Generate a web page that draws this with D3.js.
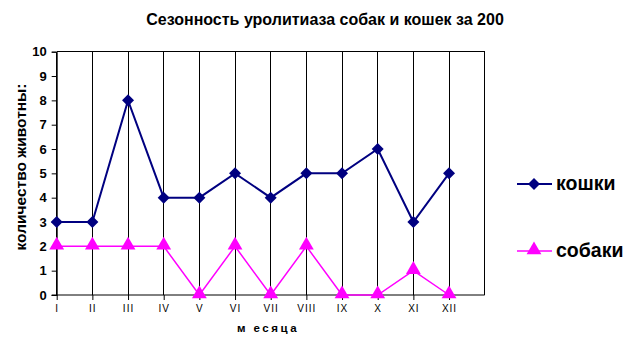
<!DOCTYPE html>
<html><head><meta charset="utf-8">
<script src="https://cdn.jsdelivr.net/npm/d3@7"></script>
<style>body{margin:0;background:#fff}svg{display:block;font-family:"Liberation Sans",Arial,sans-serif}</style>
</head><body><svg id="c" width="641" height="361"></svg>
<script>
const months = ["I","II","III","IV","V","VI","VII","VIII","IX","X","XI","XII"];
const cats = [3,3,8,4,4,5,4,5,5,6,3,5];
const dogs = [2,2,2,2,0,2,0,2,0,0,1,0];
const yTicks = [0,1,2,3,4,5,6,7,8,9,10];
const seriesNames = ["кошки","собаки"];
const titleText = "Сезонность уролитиаза собак и кошек за 200";
const yTitle = "количество животны:";
const xTitle = "м есяца";

const svg = d3.select("#c");
const L = 56.7, R = 484.7, T = 51.7, B = 295;
const x = d3.scaleLinear().domain([0, 12]).range([L, R]);
const y = d3.scaleLinear().domain([0, 10]).range([B, T]);

// title
svg.append("text").attr("x", 325).attr("y", 25).attr("text-anchor","middle")
  .attr("font-size", 16).attr("font-weight","bold").text(titleText);

// gridlines (vertical)
const g = svg.append("g");
g.selectAll("line.vg").data(d3.range(13)).join("line")
  .attr("x1", d => x(d)).attr("x2", d => x(d)).attr("y1", T).attr("y2", B)
  .attr("stroke", "#000").attr("stroke-width", 1).attr("shape-rendering","crispEdges");
g.append("line").attr("x1", L).attr("x2", R).attr("y1", T).attr("y2", T)
  .attr("stroke","#000").attr("shape-rendering","crispEdges");

// y axis
const ya = svg.append("g").attr("transform", `translate(${L},0)`)
  .call(d3.axisLeft(y).tickValues(yTicks).tickSize(5).tickPadding(5).tickFormat(d3.format("d")));
ya.select(".domain").attr("stroke","#000");
ya.selectAll("text").attr("font-size", 13).attr("font-weight","bold").attr("font-family","Liberation Sans, Arial").attr("fill","#000");
ya.selectAll("line").attr("stroke","#000");

// x axis
const xa = svg.append("g").attr("transform", `translate(0,${B})`)
  .call(d3.axisBottom(x).tickValues(d3.range(12)).tickSize(5).tickPadding(5).tickFormat(i => months[i]));
xa.select(".domain").attr("d", `M${L-5},0H${R}`).attr("stroke","#000");
xa.selectAll("text").attr("font-size", 10).attr("letter-spacing", 1).attr("font-family","Liberation Sans, Arial").attr("fill","#000");
xa.selectAll("line").attr("stroke","#000");

// axis titles
svg.append("text").attr("x", 268).attr("y", 332).attr("text-anchor","middle")
  .attr("font-size", 11.5).attr("font-weight","bold").attr("letter-spacing", 2.5).text(xTitle);
svg.append("text").attr("transform","translate(26,167) rotate(-90)").attr("text-anchor","middle")
  .attr("font-size", 15.5).attr("font-weight","bold").text(yTitle);

const line = d3.line().x((d,i) => x(i)).y(d => y(d));
const tri = d3.symbol().type(d3.symbolTriangle).size(95);
const dia = d3.symbol().type(d3.symbolSquare).size(72);

// dogs series
svg.append("path").datum(dogs).attr("d", line).attr("fill","none").attr("stroke","#FF00FF").attr("stroke-width",1.5);
svg.selectAll("path.dm").data(dogs).join("path").attr("class","dm")
  .attr("transform",(d,i)=>`translate(${x(i)},${y(d)-1})`).attr("d", tri).attr("fill","#FF00FF");
// cats series
svg.append("path").datum(cats).attr("d", line).attr("fill","none").attr("stroke","#000080").attr("stroke-width",2);
svg.selectAll("path.cm").data(cats).join("path").attr("class","cm")
  .attr("d", dia).attr("fill","#000080")
  .attr("transform",(d,i)=>`translate(${x(i)},${y(d)}) rotate(45)`);

// legend
const leg = [
  {name: seriesNames[0], color:"#000080", sym:"d", y:184, w:2},
  {name: seriesNames[1], color:"#FF00FF", sym:"t", y:251, w:1.5}
];
leg.forEach(l => {
  svg.append("line").attr("x1",517).attr("x2",552).attr("y1",l.y).attr("y2",l.y).attr("stroke",l.color).attr("stroke-width",l.w);
  if (l.sym === "d") {
    svg.append("path").attr("transform",`translate(534,${l.y}) rotate(45)`).attr("d", dia).attr("fill",l.color);
  } else {
    svg.append("path").attr("transform",`translate(534,${l.y-1})`).attr("d", tri).attr("fill",l.color);
  }
  svg.append("text").attr("x",556).attr("y",l.y+6).attr("font-size",19.5).attr("font-weight","bold").text(l.name);
});
</script></body></html>
